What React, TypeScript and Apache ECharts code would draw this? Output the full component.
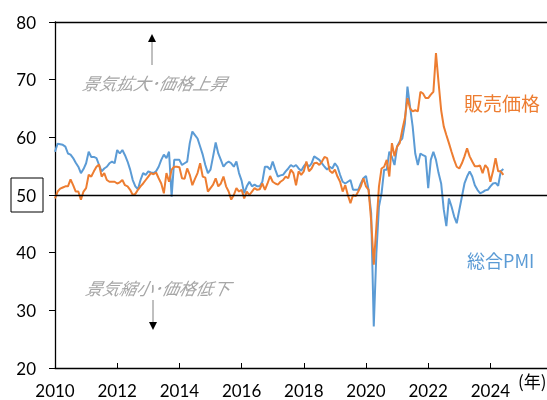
import React, { useEffect, useRef } from "react";
import * as echarts from "echarts";

// 総合PMI (monthly, Jan 2010 – Jun 2024)
const pmi2010 = [57.5, 58.9, 58.8, 58.7, 58.4, 57.2, 57.0, 56.4, 55.6, 54.9, 53.8, 54.5];
const pmi2011 = [55.5, 57.5, 56.6, 56.6, 56.4, 55.2, 54.1, 54.6, 54.9, 55.5, 55.8, 55.5];
const pmi2012 = [57.8, 57.2, 57.8, 56.9, 55.8, 54.4, 52.6, 51.5, 51.0, 52.6, 53.8, 53.5];
const pmi2013 = [54.1, 53.9, 53.8, 54.1, 54.9, 56.1, 57.0, 56.4, 57.5, 49.7, 56.1, 56.1];
const pmi2014 = [56.1, 55.2, 55.5, 55.8, 59.0, 61.0, 60.4, 59.8, 58.4, 57.0, 55.2, 53.8];
const pmi2015 = [54.4, 56.7, 59.1, 57.2, 56.1, 54.9, 55.5, 55.8, 55.5, 54.9, 55.8, 53.8];
const pmi2016 = [52.5, 50.3, 51.5, 52.3, 51.5, 51.8, 51.5, 51.5, 52.3, 54.9, 54.9, 54.4];
const pmi2017 = [55.8, 54.4, 53.2, 53.4, 53.5, 54.1, 54.6, 55.2, 54.9, 55.2, 54.6, 54.2];
const pmi2018 = [55.0, 55.5, 54.9, 55.5, 56.7, 56.4, 56.1, 55.5, 54.9, 54.4, 54.9, 54.6];
const pmi2019 = [55.5, 54.9, 53.5, 52.3, 52.0, 52.3, 52.6, 50.9, 50.9, 50.9, 52.0, 52.9];
const pmi2020 = [53.3, 50.9, 46.8, 27.2, 39.9, 48.0, 50.3, 54.4, 54.4, 57.5, 56.6, 55.2];
const pmi2021 = [58.4, 59.3, 59.8, 62.4, 68.8, 65.3, 61.9, 57.2, 55.2, 57.2, 56.9, 56.7];
const pmi2022 = [51.2, 56.1, 57.5, 56.1, 53.8, 52.0, 47.5, 44.6, 49.4, 48.0, 46.3, 45.1];
const pmi2023 = [47.4, 49.7, 52.0, 53.2, 54.1, 53.2, 51.7, 50.9, 50.3, 50.5, 50.8, 50.9];
const pmi2024 = [51.5, 52.0, 52.1, 51.6, 54.1, 54.5];

// 販売価格 (monthly, Jan 2010 – Jun 2024)
const price2010 = [49.4, 50.6, 51.1, 51.3, 51.5, 51.5, 52.7, 51.7, 50.6, 50.6, 49.2, 50.6];
const price2011 = [51.2, 53.5, 53.2, 54.1, 54.9, 55.3, 53.2, 53.8, 52.6, 52.3, 52.3, 52.3];
const price2012 = [52.0, 52.2, 52.6, 51.7, 51.5, 50.9, 50.0, 50.2, 50.9, 51.5, 52.0, 52.6];
const price2013 = [53.2, 53.8, 53.6, 53.9, 52.9, 52.0, 50.3, 53.8, 52.3, 54.4, 54.9, 54.9];
const price2014 = [54.8, 52.9, 52.8, 54.6, 53.5, 51.7, 52.8, 53.8, 55.5, 53.2, 53.0, 50.6];
const price2015 = [51.2, 51.8, 52.9, 51.5, 52.0, 53.2, 51.5, 50.6, 49.2, 50.0, 51.2, 50.6];
const price2016 = [50.9, 49.4, 50.6, 50.0, 50.6, 51.2, 50.9, 51.0, 52.0, 50.9, 52.0, 53.3];
const price2017 = [52.3, 52.0, 51.8, 52.3, 52.6, 53.2, 52.9, 54.4, 53.8, 51.7, 54.1, 53.5];
const price2018 = [54.1, 55.8, 54.1, 54.6, 55.5, 55.6, 55.2, 55.8, 56.6, 56.4, 54.2, 53.8];
const price2019 = [54.4, 53.2, 52.3, 50.6, 51.7, 50.0, 48.6, 50.0, 49.8, 50.6, 51.5, 52.9];
const price2020 = [51.5, 50.9, 45.5, 37.9, 44.5, 51.5, 54.6, 54.9, 56.1, 53.2, 59.0, 56.7];
const price2021 = [58.4, 59.0, 61.3, 63.3, 66.8, 65.0, 64.5, 64.7, 64.5, 67.9, 67.6, 66.8];
const price2022 = [66.8, 67.4, 67.9, 74.6, 69.5, 64.7, 61.9, 60.4, 59.0, 57.5, 56.1, 54.9];
const price2023 = [54.6, 55.5, 56.7, 58.1, 56.7, 55.8, 55.0, 55.0, 55.1, 53.8, 55.2, 54.6];
const price2024 = [52.3, 54.1, 56.4, 54.1, 54.1, 53.5];

const startYear = 2010;
const xLabelYears = [2010, 2012, 2014, 2016, 2018, 2020, 2022, 2024];
const xTickYears = [2012, 2014, 2016, 2018, 2020, 2022, 2024];
const yTicks = [20, 30, 40, 50, 60, 70, 80];
const seriesNames = ["総合PMI", "販売価格"];
const threshold = 50;

const compositePMI = [
  ...pmi2010, ...pmi2011, ...pmi2012, ...pmi2013, ...pmi2014, ...pmi2015, ...pmi2016,
  ...pmi2017, ...pmi2018, ...pmi2019, ...pmi2020, ...pmi2021, ...pmi2022, ...pmi2023, ...pmi2024,
];
const sellingPrice = [
  ...price2010, ...price2011, ...price2012, ...price2013, ...price2014, ...price2015, ...price2016,
  ...price2017, ...price2018, ...price2019, ...price2020, ...price2021, ...price2022, ...price2023, ...price2024,
];

const toPairs = (vals: number[]) => vals.map((v, i) => [startYear + i / 12, v]);

const BLUE = "#5B9BD5";
const ORANGE = "#ED7D31";
const X_MAX = 2025.82;

export default function App() {
  const ref = useRef<HTMLDivElement>(null);
  useEffect(() => {
    if (!ref.current) return;
    const chart = echarts.init(ref.current, null, { renderer: "svg" });
    const axisLineStyle = { color: "#000", width: 1.3 };
    chart.setOption({
      animation: false,
      textStyle: { fontFamily: "Lato" },
      grid: { left: 55, top: 22, right: 0, bottom: 32 },
      xAxis: [
        {
          type: "value",
          min: startYear,
          max: X_MAX,
          interval: 2,
          axisLine: { show: true, onZero: false, lineStyle: axisLineStyle },
          axisTick: { show: true, inside: true, length: 5, customValues: xTickYears, lineStyle: { color: "#000", width: 1 } },
          axisLabel: {
            customValues: xLabelYears,
            fontSize: 17,
            color: "#000",
            margin: 14,
            fontFamily: "Lato",
            formatter: (v: number) => (Number.isInteger(v) && v % 2 === 0 && v <= 2024 ? String(v) : ""),
          },
          splitLine: { show: false },
        },
        {
          type: "value",
          position: "top",
          min: startYear,
          max: X_MAX,
          interval: 2,
          axisLine: { show: true, onZero: false, lineStyle: axisLineStyle },
          axisTick: { show: false },
          axisLabel: { show: false },
          splitLine: { show: false },
        },
      ],
      yAxis: {
        type: "value",
        min: yTicks[0],
        max: yTicks[yTicks.length - 1],
        interval: 10,
        axisLine: { show: true, onZero: false, lineStyle: axisLineStyle },
        axisTick: { show: true, length: 6, lineStyle: { color: "#000", width: 1 } },
        axisLabel: { fontSize: 17, color: "#000", margin: 19, fontFamily: "Lato" },
        splitLine: { show: false },
      },
      series: [
        {
          name: seriesNames[0],
          type: "line",
          data: toPairs(compositePMI),
          showSymbol: false,
          symbol: "none",
          lineStyle: { color: BLUE, width: 2 },
          itemStyle: { color: BLUE },
          z: 2,
          markLine: {
            silent: true,
            symbol: ["none", "none"],
            label: { show: false },
            lineStyle: { color: "#000", type: "solid", width: 1.3 },
            data: [{ yAxis: threshold }],
          },
        },
        {
          name: seriesNames[1],
          type: "line",
          data: toPairs(sellingPrice),
          showSymbol: false,
          symbol: "none",
          lineStyle: { color: ORANGE, width: 2 },
          itemStyle: { color: ORANGE },
          z: 3,
        },
      ],
      graphic: [
        { type: "rect", shape: { x: 11, y: 178, width: 32, height: 34 }, style: { fill: "none", stroke: "#000", lineWidth: 1 } },
        { type: "line", shape: { x1: 152, y1: 65, x2: 152, y2: 41 }, style: { stroke: "#808080", lineWidth: 1 } },
        { type: "polygon", shape: { points: [[148, 42], [156, 42], [152, 34]] }, style: { fill: "#000" } },
        {
          type: "text", x: 83, y: 83, skewX: -0.21,
          style: { text: "景気拡大･価格上昇", fill: "#A6A6A6", fontSize: 17, fontStyle: "italic", fontFamily: "Noto Sans CJK JP", verticalAlign: "middle" },
        },
        {
          type: "text", x: 86, y: 288, skewX: -0.21,
          style: { text: "景気縮小･価格低下", fill: "#A6A6A6", fontSize: 17, fontStyle: "italic", fontFamily: "Noto Sans CJK JP", verticalAlign: "middle" },
        },
        { type: "line", shape: { x1: 153, y1: 300, x2: 153, y2: 323 }, style: { stroke: "#808080", lineWidth: 1 } },
        { type: "polygon", shape: { points: [[149, 322], [157, 322], [153, 330]] }, style: { fill: "#000" } },
        {
          type: "text", x: 464, y: 102,
          style: { text: seriesNames[1], fill: ORANGE, fontSize: 19, fontFamily: "Noto Sans CJK JP", verticalAlign: "middle" },
        },
        {
          type: "text", x: 467, y: 260,
          style: { text: seriesNames[0], fill: BLUE, fontSize: 18, fontFamily: "Noto Sans CJK JP", verticalAlign: "middle" },
        },
        {
          type: "text", x: 518, y: 380,
          style: { text: "(年)", fill: "#000", fontSize: 17, fontFamily: "Noto Sans CJK JP", verticalAlign: "middle" },
        },
      ],
    });
    return () => chart.dispose();
  }, []);
  return <div ref={ref} style={{ position: "fixed", left: 0, top: 0, width: 547, height: 400 }} />;
}
